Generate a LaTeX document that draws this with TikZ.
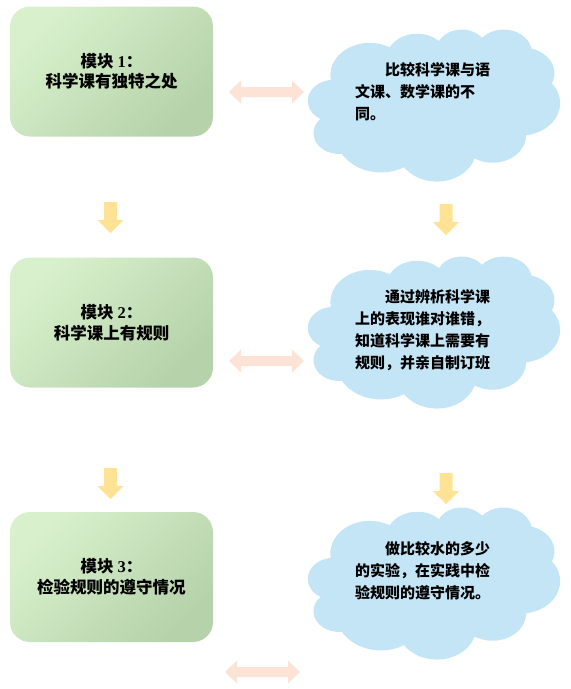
\documentclass[tikz,border=0pt]{standalone}
\usepackage{fontspec}
\setmainfont{Noto Sans CJK SC}
\newfontfamily\latf{Liberation Serif}
\definecolor{boxlight}{HTML}{D8F1CC}
\definecolor{boxdark}{HTML}{B5D2AA}
\definecolor{cloudblue}{HTML}{C3E5F5}
\definecolor{peach}{HTML}{FDE3D5}
\definecolor{sunny}{HTML}{FFE294}
\tikzset{
  modbox/.style={rounded corners=20pt, minimum width=203pt, minimum height=130pt,
    inner sep=0pt, top color=boxlight, bottom color=boxdark, shading angle=45,
    align=center, font=\bfseries\fontsize{16.5pt}{20.5pt}\selectfont},
  cloudtext/.style={anchor=base west, inner sep=0pt, text width=150pt, align=left,
    font=\bfseries\fontsize{15pt}{22pt}\selectfont},
  downarr/.pic={\fill[sunny] (-6.5,0) -- (6.5,0) -- (6.5,18) -- (13,18) -- (0,31)
     -- (-13,18) -- (-6.5,18) -- cycle;},
  dblarr/.pic={\fill[peach] (-37.5,0) -- (-25.5,-11.5) -- (-25.5,-5) -- (25.5,-5)
     -- (25.5,-11.5) -- (37.5,0) -- (25.5,11.5) -- (25.5,5) -- (-25.5,5)
     -- (-25.5,11.5) -- cycle;},
  cloudpic/.pic={\fill[cloudblue] (22.75,50.56)
     \foreach \w/\h/\s/\d [evaluate=\w as \rx using {\w*252/43.2},
                           evaluate=\h as \ry using {\h*152/43.2},
                           evaluate=\s as \sa using {0-atan2(\w*sin(\s),\h*cos(\s))},
                           evaluate=\d as \ea using {\sa-mod(atan2(\w*sin(\s+\d),\h*cos(\s+\d))+\sa+720,360)}]
     in {6.753/9.190/-190.487/123.781,
         5.333/7.267/-144.102/89.945,
         4.365/5.945/-145.808/99.723,
         4.857/6.595/-130.986/117.242,
         5.333/7.273/-78.709/109.027,
         6.775/9.220/-46.267/130.269,
         5.785/7.867/0.625/114.033,
         6.752/9.215/22.452/115.173,
         7.720/10.543/66.243/75.711,
         4.360/5.918/-274.942/146.736,
         4.345/5.945/-246.829/152.519}
     { arc[start angle=\sa, end angle=\ea, x radius=\rx pt, y radius=\ry pt] } -- cycle;}
}
\begin{document}
\begin{tikzpicture}[x=1pt,y=-1pt]
\useasboundingbox (0,0) rectangle (571,689);
% modules
\node[modbox] (m1) at (111.5,71.5) {模块 {\latf 1}：\\科学课有独特之处};
\node[modbox] (m2) at (111.5,322.5) {模块 {\latf 2}：\\科学课上有规则};
\node[modbox] (m3) at (111.5,577) {模块 {\latf 3}：\\检验规则的遵守情况};
% clouds
\pic (c1) at (308,29) {cloudpic};
\pic (c2) at (308,256) {cloudpic};
\pic (c3) at (308,507) {cloudpic};
\node[cloudtext] (t1) at (355,75.7) {\hspace*{30pt}比较科学课与语\\文课、数学课的不\\同。};
\node[cloudtext] (t2) at (355,302.7) {\hspace*{30pt}通过辨析科学课\\上的表现谁对谁错，\\知道科学课上需要有\\规则，并亲自制订班};
\node[cloudtext] (t3) at (355,554.7) {\hspace*{30pt}做比较水的多少\\的实验，在实践中检\\验规则的遵守情况。};
% arrows
\pic (a1) at (266.5,92) {dblarr};
\pic (a2) at (266.5,361) {dblarr};
\pic (a3) at (262.5,672) {dblarr};
\pic (d1) at (110.5,202) {downarr};
\pic (d2) at (110.5,468) {downarr};
\pic (d3) at (446,204) {downarr};
\pic (d4) at (446,473) {downarr};
\end{tikzpicture}
\end{document}
